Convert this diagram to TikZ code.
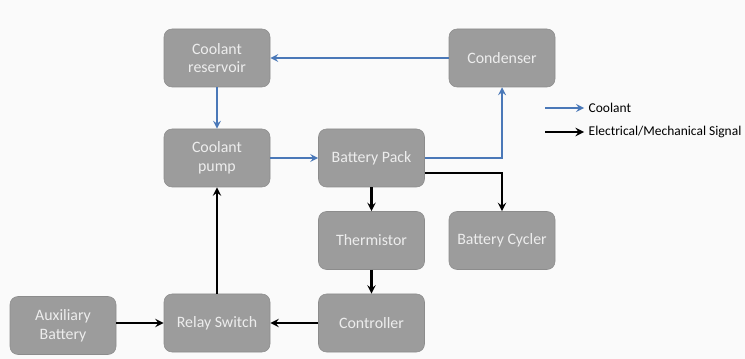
\documentclass[tikz,border=0pt]{standalone}
\usepackage{fontspec}
\setmainfont{Carlito}
\usepackage{tikz}
\usetikzlibrary{arrows, positioning, calc}

\definecolor{boxgray}{HTML}{9C9C9C}
\definecolor{boxline}{HTML}{8C8C8C}
\definecolor{coolblue}{HTML}{4A78B8}

\begin{document}
\begin{tikzpicture}[
    x=0.75pt, y=-0.75pt,
    block/.style={draw=boxline, fill=boxgray, rounded corners=6pt, minimum width=79.5pt,
                  minimum height=43.5pt, align=center, text=white!93!black, font=\fontsize{11.9}{14}\selectfont},
    cool/.style={draw=coolblue, line width=1.6pt, ->, >=stealth},
    sig/.style={draw=black, line width=1.8pt, ->, >=stealth}
]
\useasboundingbox[fill=white!98!black] (0,0) rectangle (745,359);

\node[block] (res) at (217,58) {Coolant\\reservoir};
\node[block] (cond) at (502,58) {Condenser};
\node[block] (pump) at (217,158) {Coolant\\pump};
\node[block] (pack) at (371.5,158) {Battery Pack};
\node[block] (therm) at (371.5,240.5) {Thermistor};
\node[block] (cycler) at (502,240.5) {Battery Cycler};
\node[block] (aux) at (63,325.5) {Auxiliary\\Battery};
\node[block] (relay) at (217,323) {Relay Switch};
\node[block] (ctrl) at (371.5,323) {Controller};

% coolant loop
\draw[cool] (cond) -- (res);
\draw[cool] (res) -- (pump);
\draw[cool] (pump) -- (pack);
\draw[cool] (pack.east) -| (cond.south);

% signals
\draw[sig] ([yshift=-11.25pt]pack.east) -| (cycler.north);
\draw[sig] (pack) -- (therm);
\draw[sig] (therm) -- (ctrl);
\draw[sig] (ctrl) -- (relay);
\draw[sig] (aux.east |- relay) -- (relay);
\draw[sig] (relay) -- (pump);

% legend
\coordinate (k1) at (545,108);
\node[anchor=west, font=\fontsize{10.1}{12}\selectfont] (lcool) at (584,108) {Coolant};
\coordinate (k2) at (545,132);
\node[anchor=west, font=\fontsize{10.1}{12}\selectfont] (lsig) at (584,132) {Electrical/Mechanical Signal};
\draw[cool] (k1) -- (lcool.west);
\draw[sig] (k2) -- (lsig.west);
\end{tikzpicture}
\end{document}
